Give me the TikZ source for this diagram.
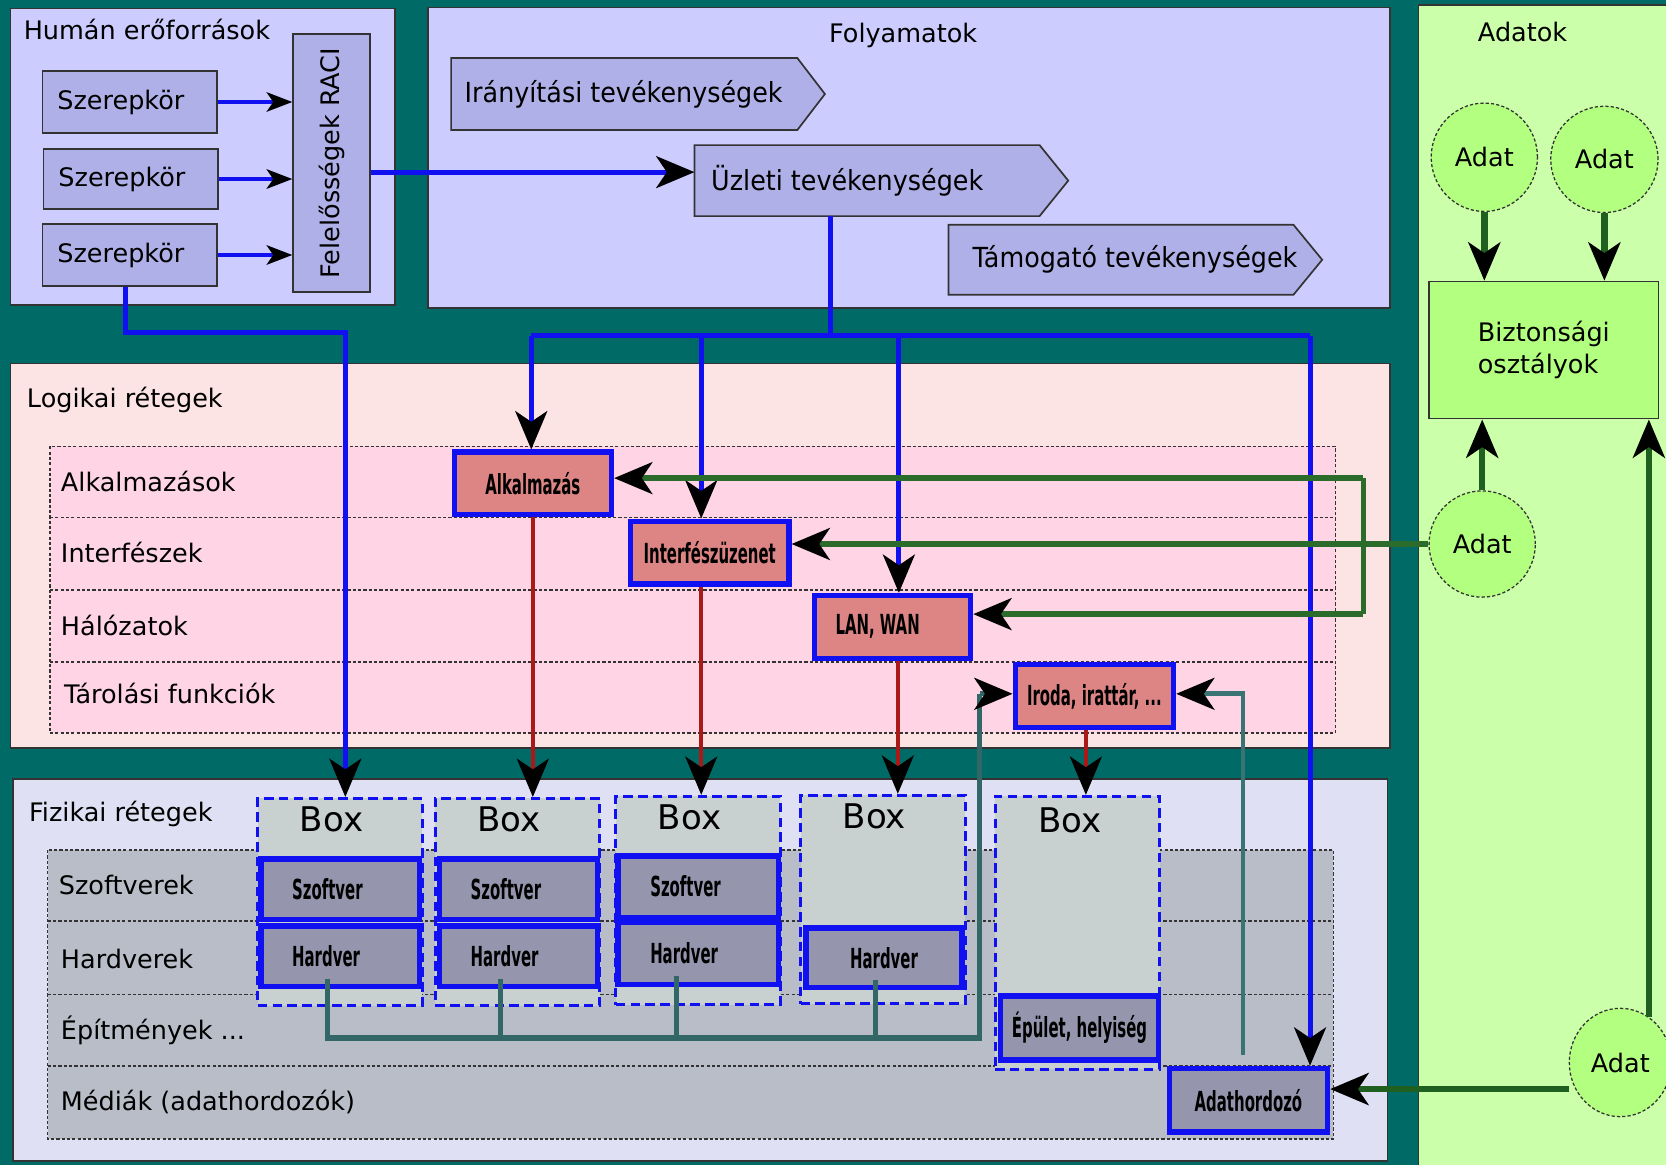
\documentclass[tikz,border=0pt]{standalone}
\usepackage{fontspec}
\setmainfont{DejaVu Sans}
\newfontfamily\condA[FakeStretch=0.92]{DejaVu Sans}
\newfontfamily\condB[FakeStretch=0.54]{DejaVu Sans}
\usetikzlibrary{arrows.meta,shapes.geometric,calc}
\definecolor{bgteal}{HTML}{006A66}
\definecolor{lav}{HTML}{CCCCFF}
\definecolor{lavbox}{HTML}{B0B0E8}
\definecolor{lgreen}{HTML}{CCFFAA}
\definecolor{mgreen}{HTML}{B3FF80}
\definecolor{lpink}{HTML}{FCE4E4}
\definecolor{mpink}{HTML}{FFD5E5}
\definecolor{redbox}{HTML}{DD8585}
\definecolor{lphys}{HTML}{DFE0F3}
\definecolor{gphys}{HTML}{B8BDC8}
\definecolor{boxcol}{HTML}{C8D0D0}
\definecolor{swcol}{HTML}{9595AE}
\definecolor{redline}{HTML}{AA1818}
\definecolor{grline}{HTML}{1F5F1F}
\definecolor{grline2}{HTML}{2B6B2B}
\definecolor{tlline}{HTML}{336666}
\definecolor{tlline2}{HTML}{3A7373}
\definecolor{bordergray}{HTML}{333333}
\definecolor{blueline}{HTML}{1010F0}
\tikzset{
  wh/.style 2 args={minimum width=#1*0.5pt, minimum height=#2*0.5pt},
  panel/.style={draw=bordergray, line width=0.8pt},
  txt/.style={font=\fontsize{12}{14}\selectfont, inner sep=0pt},
  lavnode/.style={draw=bordergray, line width=0.8pt, fill=lavbox, inner sep=0pt, font=\fontsize{12}{14}\selectfont},
  chev/.style={draw=bordergray, line width=0.8pt, fill=lavbox},
  chevtxt/.style={inner sep=0pt, anchor=west, font=\condA\fontsize{13}{15}\selectfont},
  redn/.style={draw=blueline, line width=2.5pt, fill=redbox, inner sep=0pt, font=\condB\bfseries\fontsize{13}{15}\selectfont},
  graynode/.style={draw=blueline, line width=2.5pt, fill=swcol, inner sep=0pt, font=\condB\bfseries\fontsize{13}{15}\selectfont},
  boxcolumn/.style={draw=blueline, line width=1.4pt, dash pattern=on 4.5pt off 2.5pt, fill=boxcol, inner sep=0pt},
  boxtitle/.style={inner sep=0pt, font=\fontsize{16}{18}\selectfont},
  adat/.style={ellipse, draw=bordergray, line width=0.6pt, dash pattern=on 1.5pt off 1pt, fill=mgreen, inner sep=0pt, font=\fontsize{12}{14}\selectfont},
  biztbox/.style={draw=bordergray, line width=0.8pt, fill=mgreen, inner sep=0pt, align=left, font=\fontsize{12}{15}\selectfont},
  innerarea/.style={draw=bordergray, line width=0.6pt, dash pattern=on 1.5pt off 1pt},
  rowsep/.style={draw=bordergray, line width=0.8pt, dash pattern=on 1.5pt off 1pt},
  withtip/.style={-{Stealth[length=18pt,width=15pt,inset=5pt,black]}},
  smalltip/.style={-{Stealth[length=12pt,width=9pt,inset=3pt,black]}},
  bl/.style={draw=blueline, line width=2.3pt},
  rd/.style={draw=redline, line width=2pt},
  gr/.style={draw=grline, line width=3pt},
  gr2/.style={draw=grline2, line width=2.5pt},
  tl/.style={draw=tlline, line width=2.5pt},
  tl2/.style={draw=tlline2, line width=2.2pt},
}
\begin{document}
\begin{tikzpicture}[x=0.5pt,y=-0.5pt]
\useasboundingbox (0,0) rectangle (1568,1096);
\fill[bgteal] (0,0) rectangle (1568,1096);
% panels
\draw[panel,fill=lav] (10,8) rectangle (372,287);
\draw[panel,fill=lav] (403,7) rectangle (1308,290);
\draw[panel,fill=lgreen] (1335,5) rectangle (1580,1110);
\draw[panel,fill=lpink] (10,342) rectangle (1308,704);
\draw[panel,fill=lphys] (12,733) rectangle (1306,1093);
% titles
\node[txt,anchor=west] (tHum) at (22,28) {Humán erőforrások};
\node[txt] (tFoly) at (850,33) {Folyamatok};
\node[txt] (tAdat) at (1433,30) {Adatok};
\node[txt,anchor=west] (tLog) at (25,376) {Logikai rétegek};
\node[txt,anchor=west] (tFiz) at (27,766) {Fizikai rétegek};
% human resources
\node[lavnode,wh={164}{58},text width=68pt,align=left] (sz1) at (122,96) {Szerepkör};
\node[lavnode,wh={164}{57},text width=68pt,align=left] (sz2) at (123,168.5) {Szerepkör};
\node[lavnode,wh={164}{58},text width=68pt,align=left] (sz3) at (122,240) {Szerepkör};
\node[lavnode,wh={72}{243}] (raci) at (312,153.5) {};
\node[txt,rotate=90] (raciT) at (raci.center) {Felelősségek RACI};
% processes
\node[inner sep=0pt,wh={325}{67}] (irany) at (587.5,88.5) {};
\draw[chev] (irany.north west) -- (irany.north east) -- ($(irany.east)+(26,0)$) -- (irany.south east) -- (irany.south west) -- cycle;
\node[chevtxt] (iranyT) at (437,88.5) {Irányítási tevékenységek};
\node[inner sep=0pt,wh={324}{66}] (uzl) at (816,170) {};
\draw[chev] (uzl.north west) -- (uzl.north east) -- ($(uzl.east)+(27,0)$) -- (uzl.south east) -- (uzl.south west) -- cycle;
\node[chevtxt] (uzlT) at (669,170) {Üzleti tevékenységek};
\node[inner sep=0pt,wh={324}{65}] (tam) at (1055,244.5) {};
\draw[chev] (tam.north west) -- (tam.north east) -- ($(tam.east)+(27,0)$) -- (tam.south east) -- (tam.south west) -- cycle;
\node[chevtxt] (tamT) at (915,244.5) {Támogató tevékenységek};
% data
\node[adat,wh={100}{102}] (ad1) at (1397,148) {Adat};
\node[adat,wh={101}{100}] (ad2) at (1510,150) {Adat};
\node[adat,wh={100}{100}] (ad3) at (1395,512) {Adat};
\node[adat,wh={96}{102}] (ad4) at (1525,1000) {Adat};
\node[biztbox,wh={216}{129}] (bizt) at (1453,329.5) {Biztonsági\\osztályok};
% logical layers
\draw[innerarea,fill=mpink] (47,420) rectangle (1257,690);
\draw[rowsep] (47,487) -- (1257,487);
\draw[rowsep] (47,555) -- (1257,555);
\draw[rowsep] (47,623) -- (1257,623);
\node[txt,anchor=west] (rAlk) at (57,453) {Alkalmazások};
\node[txt,anchor=west] (rInt) at (57,520) {Interfészek};
\node[txt,anchor=west] (rHal) at (57,589) {Hálózatok};
\node[txt,anchor=west] (rTar) at (60,653) {Tárolási funkciók};
\node[redn,wh={148}{59}] (alk) at (501.5,455) {Alkalmazás};
\node[redn,wh={149}{59}] (intf) at (668,520) {Interfészüzenet};
\node[redn,wh={147}{59}] (lan) at (840,590) {LAN, WAN\rule{14pt}{0pt}};
\node[redn,wh={149}{59}] (iroda) at (1030,655) {Iroda, irattár, ...};
% physical layers
\draw[innerarea,fill=gphys] (45,800) rectangle (1255,1072);
\draw[rowsep] (45,867) -- (1255,867);
\draw[rowsep] (45,936) -- (1255,936);
\draw[rowsep] (45,1003) -- (1255,1003);
\node[txt,anchor=west] (rSzo) at (55,833) {Szoftverek};
\node[txt,anchor=west] (rHar) at (57,903) {Hardverek};
\node[txt,anchor=west] (rEpi) at (57,970) {Építmények ...};
\node[txt,anchor=west] (rMed) at (57,1037) {Médiák (adathordozók)};
\node[boxcolumn,wh={155}{195}] (bx1) at (320,849) {};
\node[boxcolumn,wh={155}{195}] (bx2) at (487,849) {};
\node[boxcolumn,wh={155}{196}] (bx3) at (657,847.5) {};
\node[boxcolumn,wh={155}{196}] (bx4) at (831,846.5) {};
\node[boxcolumn,wh={155}{257}] (bx5) at (1014,878) {};
\node[boxtitle] (bt1) at ($(bx1.north)+(-8,21)$) {Box};
\node[boxtitle] (bt2) at ($(bx2.north)+(-8,21)$) {Box};
\node[boxtitle] (bt3) at ($(bx3.north)+(-8,21)$) {Box};
\node[boxtitle] (bt4) at ($(bx4.north)+(-8,21)$) {Box};
\node[boxtitle] (bt5) at ($(bx5.north)+(-7,24)$) {Box};
\node[graynode,wh={149}{57},text width=45pt,align=left] (sw1) at (320,837) {Szoftver};
\node[graynode,wh={149}{57},text width=45pt,align=left] (hw1) at (320,900) {Hardver};
\node[graynode,wh={149}{57},text width=45pt,align=left] (sw2) at (488,837) {Szoftver};
\node[graynode,wh={149}{57},text width=45pt,align=left] (hw2) at (488,900) {Hardver};
\node[graynode,wh={151}{58},text width=45pt,align=left] (sw3) at (657,834.5) {Szoftver};
\node[graynode,wh={151}{58},text width=45pt,align=left] (hw3) at (657,897.5) {Hardver};
\node[graynode,wh={147}{56}] (hw4) at (832,901.5) {Hardver};
\node[graynode,wh={149}{60}] (epu) at (1016,967.5) {Épület, helyiség};
\node[graynode,wh={149}{60}] (adh) at (1175,1035.5) {Adathordozó};
% ---------- connectors ----------
% roles -> RACI
\draw[bl,smalltip] (sz1.east) -- (sz1.east -| raci.west);
\draw[bl,smalltip] (sz2.east) -- (sz2.east -| raci.west);
\draw[bl,smalltip] (sz3.east) -- (sz3.east -| raci.west);
\coordinate (r1) at ($(raci.east)+(0,8.5)$);
\draw[bl,withtip] (r1) -- (r1 -| uzl.west);
% role -> box 1
\coordinate (h1) at (118,313);
\coordinate (h2) at (325,313);
\draw[bl,withtip] (sz3.south -| h1) -- (h1) -- (h2) -- (h2 |- bx1.north);
% business activities bus
\coordinate (j0) at (782,316);
\coordinate (b1) at (500,316);
\coordinate (b2) at (660,316);
\coordinate (b3) at (846,316);
\coordinate (b4) at (1233,316);
\draw[bl] (uzl.south -| j0) -- (j0);
\draw[bl] (b1) -- (b4);
\draw[bl,withtip] (b1) -- (b1 |- alk.north);
\draw[bl,withtip] (b2) -- (b2 |- intf.north);
\draw[bl,withtip] (b3) -- (b3 |- lan.north);
\draw[bl,withtip] (b4) -- (b4 |- adh.north);
% logical -> physical
\draw[rd,withtip] (alk.south) -- (alk.south |- bx2.north);
\coordinate (i1) at ([xshift=-4pt]intf.south);
\draw[rd,withtip] (i1) -- (i1 |- bx3.north);
\coordinate (l1) at ([xshift=2.5pt]lan.south);
\draw[rd,withtip] (l1) -- (l1 |- bx4.north);
\coordinate (o1) at ([xshift=-4pt]iroda.south);
\draw[rd,withtip] (o1) -- (o1 |- bx5.north);
% data connectors
\coordinate (g1) at (1283,450);
\coordinate (g2) at (1283,578);
\draw[gr2] (g1) -- (g2);
\draw[gr2,withtip] (g1) -- (g1 -| alk.east);
\draw[gr2,withtip] (g2) -- (g2 -| lan.east);
\draw[gr2,withtip] (ad3.west) -- (ad3.west -| intf.east);
\draw[gr,withtip] (ad1.south) -- (ad1.south |- bizt.north);
\draw[gr,withtip] (ad2.south) -- (ad2.south |- bizt.north);
\draw[gr,withtip] (ad3.north) -- (ad3.north |- bizt.south);
\draw[gr,withtip] (ad4.58) -- (ad4.58 |- bizt.south);
\coordinate (a5) at ([yshift=-12.5pt]ad4.west);
\draw[gr,withtip] (a5) -- (a5 -| adh.east);
% hardware -> buildings
\coordinate (t1) at (308,977);
\coordinate (t2) at (471,977);
\coordinate (t3) at (637,977);
\coordinate (t4) at (824,977);
\coordinate (t5) at (922,977);
\coordinate (t6) at (922,653);
\coordinate (t7) at (1170,653);
\draw[tl] ($(t1 |- hw1.south)+(0,-10)$) -- (t1) -- (t5) -- (t6);
\draw[tl] ($(t2 |- hw2.south)+(0,-10)$) -- (t2);
\draw[tl] ($(t3 |- hw3.south)+(0,-10)$) -- (t3);
\draw[tl] ($(t4 |- hw4.south)+(0,-10)$) -- (t4);
\draw[tl,withtip] (t6) -- (t6 -| iroda.west);
\draw[tl2,withtip] ($(t7 |- adh.north)+(0,-10)$) -- (t7) -- (t7 -| iroda.east);
\end{tikzpicture}
\end{document}
